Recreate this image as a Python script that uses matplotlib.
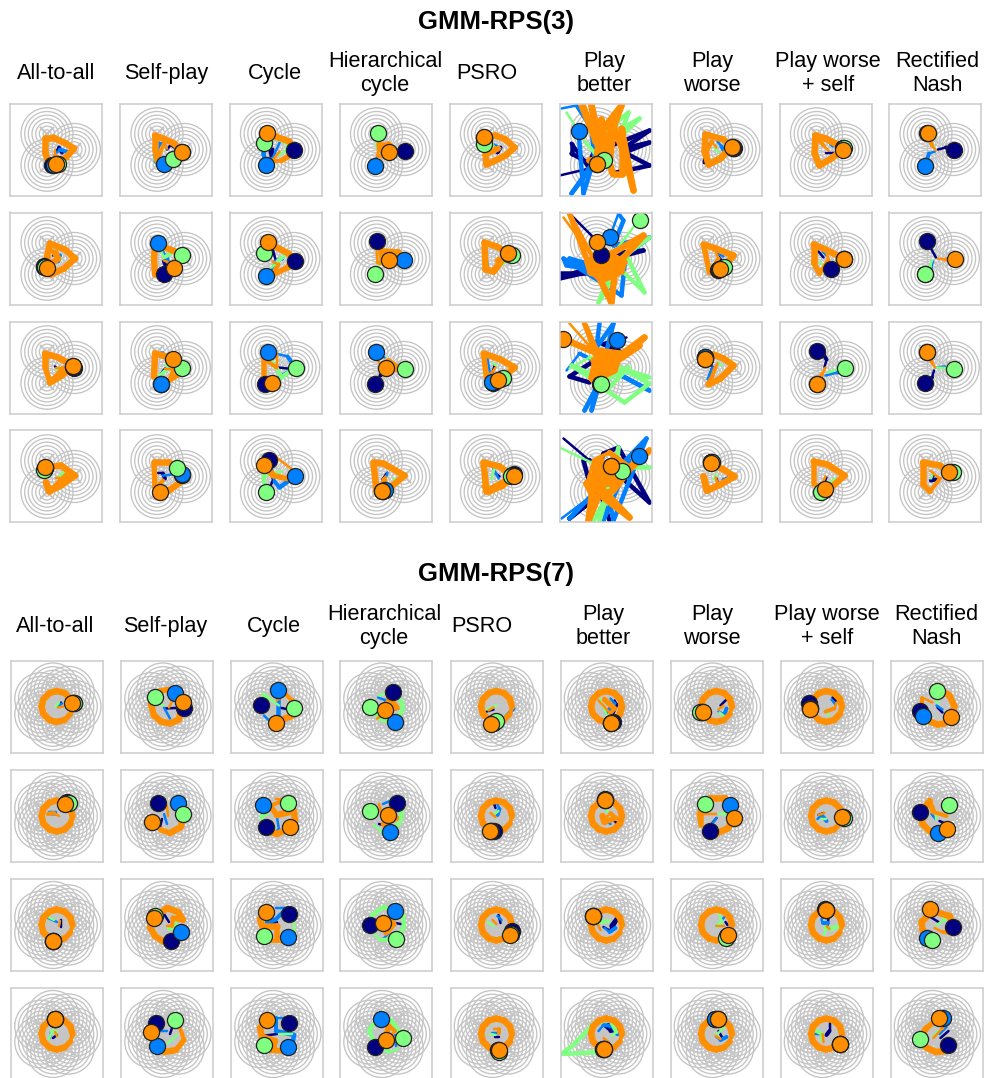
"""
plot.py
Two 4x9 grids of small panels: agent trajectories on GMM-RPS(3) and GMM-RPS(7).
Coordinates are in panel units, x to the right and y downwards from panel centre.
"""

import matplotlib.pyplot as plt
from matplotlib.collections import LineCollection
from matplotlib.patches import Circle

plt.rcParams["font.family"] = ["Liberation Sans", "DejaVu Sans"]

TITLES = ["GMM-RPS(3)", "GMM-RPS(7)"]
METHODS = ["All-to-all", "Self-play", "Cycle", "Hierarchical\ncycle", "PSRO",
           "Play\nbetter", "Play\nworse", "Play worse\n+ self", "Rectified\nNash"]

CENTRES_3 = [(-9, -15.7), (18.3, 0), (-9, 15.7)]
CENTRES_7 = [(18, 0), (11.2, 14.1), (-4, 17.5), (-16.2, 7.8), (-16.2, -7.8), (-4, -17.5), (11.2, -14.1)]
RADII = [26, 22.3, 18.7, 15, 11.3, 7.7, 4]

# final agent positions, rows x methods
NAVY_3 = [
    [(-4, 15), (16, 2), (18, 0), (19, 1), (-12, -12), (-9, 14), (18, -2), (17, -2), (19, 0)],
    [(-12, 7), (-2, 15), (19, 2), (-9, -17), (13, -5), (-5, -4), (2, 11), (5, 10), (-8, -17)],
    [(18, 0), (-5, 16), (-11, 16), (-11, 16), (-3, 15), (-6, 16), (-11, -11), (-9, -17), (-10, 15)],
    [(-11, -8), (16, -1), (-7, -16), (-3, 15), (18, -2), (5, -10), (-5, -14), (-2, 14), (15, -4)],
]
BLUE_3 = [
    [(-2, 15), (-2, 14), (-10, 15), (-11, 16), (-12, -12), (-27, -19), (17, -2), (17, -2), (-10, 16)],
    [(-12, 8), (-8, -15), (-10, 17), (18, 1), (13, -5), (4, -21), (3, 10), (18, 0), (-10, 15)],
    [(17, -1), (-5, 16), (-8, -16), (-10, -16), (-4, 14), (11, -28), (-11, -11), (-9, 16), (-8, -16)],
    [(-11, -8), (16, -2), (19, 0), (-1, 14), (16, -1), (33, -20), (-5, -14), (-2, 14), (15, -4)],
]
GREEN_3 = [
    [(2, 14), (7, 9), (-12, -7), (-8, -17), (-12, -6), (-2, 10), (17, -3), (18, -2), (-8, -17)],
    [(-11, 8), (16, -4), (-12, -6), (-11, 15), (16, -4), (34, -38), (8, 8), (18, 0), (-10, 15)],
    [(17, -2), (16, 0), (20, 0), (19, 1), (7, 10), (-5, 16), (-11, -9), (19, 0), (19, 1)],
    [(-12, -6), (11, -8), (-10, 16), (-4, 15), (15, 0), (16, -5), (-4, -14), (-5, 16), (18, -4)],
]
ORANGE_3 = [
    [(0, 14), (16, 2), (-9, -17), (3, 2), (-12, -13), (-9, 14), (16, -3), (17, 0), (-7, -17)],
    [(-9, 9), (8, 9), (-8, -16), (3, 1), (12, -6), (-9, -16), (4, 10), (18, 0), (20, 0)],
    [(17, -2), (7, -9), (-4, 15), (0, 0), (2, 12), (-43, -29), (-11, -9), (-9, 16), (-8, -16)],
    [(-11, -9), (-6, 16), (-12, -11), (-4, 15), (18, 0), (5, -10), (-5, -13), (-1, 13), (14, -4)],
]
NAVY_7 = [
    [(17, -4), (17, 1), (-16, -2), (7, -15), (-4, 16), (6, 15), (-16, 5), (-18, -4), (-17, 4)],
    [(10, -14), (-9, -13), (-11, 11), (11, -13), (-3, 15), (-2, -17), (-7, 15), (16, 1), (-17, -4)],
    [(-4, 16), (4, 16), (12, -11), (-16, 0), (15, 6), (-14, -9), (10, 11), (-2, -16), (16, 2)],
    [(-2, -15), (-11, -11), (12, -11), (-11, 13), (1, 16), (-4, 15), (-2, -15), (13, 10), (11, 11)],
]
BLUE_7 = [
    [(16, -4), (8, -14), (1, -17), (9, 15), (-4, 16), (4, 16), (-15, 5), (-17, 1), (-14, 9)],
    [(9, -13), (11, -13), (-14, -11), (4, 16), (-6, 15), (-2, -16), (13, -11), (16, 1), (1, 17)],
    [(-4, 16), (14, 7), (11, 12), (9, -14), (14, 9), (-14, -9), (10, 11), (-1, -15), (-10, 13)],
    [(-2, -15), (-10, 12), (11, 13), (-5, -15), (1, 16), (-4, 15), (-2, -15), (13, 10), (6, -16)],
]
GREEN_7 = [
    [(17, -4), (-12, -10), (17, 1), (-16, 0), (-1, 14), (4, 16), (-17, 5), (-17, 1), (0, -16)],
    [(12, -13), (16, -2), (11, -13), (-16, -5), (-6, 15), (-2, -16), (-12, -12), (17, 2), (12, -11)],
    [(-4, 16), (-12, -9), (-13, 11), (10, 14), (14, 9), (-14, -9), (9, 13), (-1, -15), (-5, 15)],
    [(-2, -15), (8, -14), (-13, 11), (17, 4), (2, 18), (-3, 15), (1, -15), (13, 10), (-17, 5)],
]
ORANGE_7 = [
    [(15, -4), (16, -5), (-1, 16), (-1, 3), (-6, 17), (4, 16), (-14, 5), (-17, 2), (14, 10)],
    [(8, -12), (-15, 6), (13, 11), (2, -1), (-7, 15), (-2, -16), (17, 2), (15, 1), (10, 13)],
    [(-4, 16), (-13, -7), (-11, -13), (-3, -2), (13, 10), (-14, -9), (11, 10), (-1, -15), (-7, -16)],
    [(-2, -15), (-16, -2), (-10, -14), (0, 6), (2, 16), (-3, 15), (1, -15), (13, 10), (2, -16)],
]

# the orbit most agents settle on in the seven-gaussian game
RING = [(15.5, 0), (13.5, 7.5), (7.5, 13.5), (0, 15.5), (-7.5, 13.5), (-13.5, 7.5), (-15.5, 0),
        (-13.5, -7.5), (-7.5, -13.5), (0, -15.5), (7.5, -13.5), (13.5, -7.5), (15.5, 0)]

# trails, rows x methods; None breaks a line where the path is hidden
NAVY_TRAIL_3 = [
    [[(0, 2), (3, -2), (6, 3)], [(1, 0), (5, -5), (16, 2)], [(-7, -3), (-4, 9), (-3, 0)], [(3, 0), (19, 1)],
     [(2, -2), (5, -2), (2, 3)],
     [(-46, 26), (-16, 19), (-34, -6), (-34, 4), (-16, 14), (-12, 3), (44, -19), (18, -1), (44, -7), (19, 3), (44, 16), (11, 23)],
     [(-3, -7), (-8, -4), (-11, 13)], [(0, 3), (15, 3)], [(3, 0), (11, -2), (19, 0)]],
    [[(-3, -3), (-1, -7)], [(0, -2), (-2, 3), (0, 8)], [(-4, -14), (0, 1)], [(-5, -5), (-3, -3)], [(3, 1), (5, 3), (7, 0)],
     [(-36, -45), (-12, -21), (-5, -4), (38, -8), (8, 0), (-46, 20), (-19, 14), (-46, 14)],
     [(3, -2), (7, 3), (2, 4)], [(-7, -7), (-2, -1)], [(1, -1), (-8, -17)]],
    [[(-1, -1), (1, 1)], [(-5, 6), (-1, 1)], [(3, 0), (12, 1)], [(-11, 16), (-5, 8), (0, 0)], [(-1, -2), (-3, 5)],
     [(21, -30), (-4, -24), (16, -14), (10, -20), (-36, 9), (-16, 15)],
     [(-6, 8), (-3, -1)], [(-1, 0), (1, -8), (-2, -13), (-9, -17)], [(-1, 3), (-3, 10), (-10, 15)]],
    [[(6, 1), (10, -1)], [(-8, -3), (-3, -3), (-1, 2)], [(-6, 12), (-2, 2), (-7, -16)], [(1, -3), (-3, 3)], [(0, -3), (4, 0)],
     [(-42, -38), (-16, -16), (-22, -16), (-14, 14), (-2, -23), (13, -29), (44, 26), (16, 1), (-36, 42), (-5, 17), (4, 44)],
     [(1, 2), (3, 9)], [(-3, 10), (1, 1)], [(-1, -2), (-4, 4), (1, 3)]],
]
BLUE_TRAIL_3 = [
    [[(1, 3), (4, 0), (13, 3)], [(1, -1), (-2, -6), (-7, -6), (-11, 5), (-10, 12)],
     [(5, -9), (-3, 9), (-10, 15), (-12, 4), (-11, -7)], [(-8, 6), (-11, 16)], [(-1, -5), (5, -1)],
     [(-44, -41), (-29, -44), (-14, -21), (-11, 11), (-34, 44), (-14, 18), (-22, 44), (-27, -19)],
     [(2, -8), (6, -3), (8, 1)], [(3, -8), (7, -3)], [(0, 2), (-6, 4), (-10, 16)]],
    [[(-1, -6), (4, -3), (2, 3)], [(-5, -10), (1, -1), (2, 4)], [(-6, 16), (0, 3), (7, 0)], [(1, 2), (18, 1)],
     [(-10, -12), (-8, 8)],
     [(4, -21), (13, -45), (18, -38), (8, -13), (44, -21), (20, -3), (16, 37), (1, 27), (-42, 0), (-39, 7), (-19, 10), (-36, 0), (-12, 7)],
     [(2, -5), (8, -2)], [(-3, -7), (1, -3)], [(-2, 3), (-4, 9), (-10, 15)]],
    [[(-3, -11), (-10, -10)], [(-9, -14), (-3, -15)], [(-8, -16), (12, -11), (20, 0), (8, 8), (-4, 15)],
     [(-10, -16), (-1, -10)], [(-4, 14), (-9, -14)],
     [(-39, 3), (-26, -14), (-12, -7), (44, 23), (1, 0), (-21, 43), (-6, 16), (-14, 43), (8, -44), (-9, -20), (-6, -44)],
     [(-8, 12), (-3, 0)], [(0, 8), (12, 5), (19, 0)], [(1, 0), (10, -1)]],
    [[(4, 6), (12, 0)], [(-3, -1), (6, -2)], [(-4, -7), (-1, 5), (4, 11), (19, 0)], [(2, -4), (-1, 5)], [(-2, -8), (3, 2)],
     [(-44, 42), (-16, 21), (-36, 42), (41, -38), (33, -19), (8, 44), (1, 11), (-2, 44), (24, -16)],
     [(7, 3), (12, 1)], [(-8, -13), (1, -11)], [(-10, -15), (-3, -12)]],
]
GREEN_TRAIL_3 = [
    [[(-11, -12), (-3, -10), (15, -5)], [(-11, -13), (-11, 10), (7, 9)], [(2, 6), (11, 1), (13, -6), (0, -12), (-12, -7)],
     [(-9, -2), (-8, -17)], [(-2, -4), (-10, -12)],
     [(-39, -37), (-19, -6), (-6, 9), (3, -21), (23, -37), (14, -12), (34, -31), (-1, -11), (-4, 3), (10, -30), (13, -10)],
     [(-1, -2), (3, 3)], [(-9, 15), (-11, 4)], [(0, 0), (-7, -17)]],
    [[(2, -1), (5, -1)], [(-5, -8), (-2, -1), (5, -5)], [(-4, 9), (2, 3), (9, -3)], [(-5, 5), (-11, 15)], [(6, 7), (14, -1)],
     [(33, -38), (4, 0), (39, 34), (21, -3), (-7, 44), (8, 5), (44, -21)],
     [(-9, 12), (-4, 8)], [(-6, 4), (0, 8)], [(-3, 2), (-5, 8), (-10, 15)]],
    [[(0, 1), (4, 4), (6, 1)], [(-1, -3), (4, -1), (-8, 10)], [(-5, -9), (0, -2), (6, 10), (20, 0)], [(1, 1), (19, 1)],
     [(-3, -4), (1, -2)],
     [(-36, 1), (-16, -10), (44, 10), (16, 1), (44, 16), (19, 35), (1, 23), (23, 0), (-6, 16), (-34, -2), (-10, 8)],
     [(2, -5), (6, -2)], [(2, 5), (19, 0)], [(1, 0), (19, 1)]],
    [[(3, 0), (8, -5), (9, 3)], [(-7, 8), (-3, 6)], [(7, -5), (-3, -4), (-12, -1), (-10, 16)], [(8, 2), (14, 3)],
     [(0, -12), (-4, 3)],
     [(-46, -29), (-12, -13), (44, -9), (24, -9), (-12, 44), (1, 21), (-6, 44), (13, -29), (11, -6)],
     [(-2, 3), (1, -2)], [(4, 6), (10, 2)], [(-4, 2), (-2, -3)]],
]
ORANGE_TRAIL_3 = [
    [[(-1, 0), (-1, 6), (3, 9), (-7, 15), (-11, 2), (-11, -12), (-3, -12), (10, -6), (18, -1), (10, 8), (0, 14)],
     [(1, -1), (-2, -6), (-9, 11), (-11, 0), (-11, -14), (-3, -11), (8, -6), (16, 2)],
     [(4, 2), (-4, 12), (6, 11), (16, 5), (18, 0), (14, -8), (0, -13), (-9, -17)],
     [(-8, -6), (-8, 6), (3, 8), (9, 3), (3, -5), (-6, -5), (-3, 2), (3, 2)],
     [(-1, -3), (-1, 2), (3, -1), (-10, 5), (-9, 15), (-2, 12), (10, 6), (19, -2), (10, -10), (0, -14), (-12, -13)],
     [(-26, -44), (-11, -7), (-22, -44), (-7, -1), (-14, -44), (-2, 5), (16, -44), (-2, -21), (9, -27), (4, 13), (7, 24), (16, 24), (16, -21), (28, 41), (19, 6), (6, -29), (2, 10), (-4, -30), (-9, 10), (-16, 11), (-9, 14)],
     [(1, -2), (-4, -8), (-9, 3), (-7, 15), (5, 9), (16, -3), (8, -10), (-10, -15), (-11, 2), (-7, 15), (5, 9), (16, -3)],
     [(3, 1), (-2, -4), (-10, -14), (0, -11), (10, -6), (17, 0), (6, 9), (-6, 16), (-11, 4), (-10, -14), (0, -11), (10, -6), (17, 0)],
     [(1, 1), (-3, -4), (-7, -17)]],
    [[(-1, -2), (-5, -8), (0, -6), (2, 0), (-9, 9), (-5, 16), (8, 10), (19, 0), (9, -9), (-6, -15), (-9, -2), (-9, 9)],
     [(-2, 2), (5, 5), (-2, 13), (-11, 16), (-12, 0), (-11, -14), (-1, -11), (14, -5), (8, 9)],
     [(-3, 3), (3, 6), (-4, 17), (12, 9), (19, 2), (13, -5), (-8, -16)],
     [(-9, -7), (-8, 4), (1, 6), (12, -2), (13, -6), (-4, -7), (-3, 1), (3, 1)],
     [(3, -1), (1, 2), (6, 3), (-2, 13), (-10, 11), (-11, -16), (1, -12), (12, -6), (-2, 13), (12, -6)],
     [(-42, -41), (-12, 0), (-36, -45), (-18, 3), (0, -6), (18, 3), (16, 13), (0, 20), (-15, 14), (-18, 3), (18, 3), (-15, 14), (16, 13), (0, -4), (-8, 18), (10, 2), (-12, 8), (14, 8), (-6, 2), (38, -23), (10, 8), (6, 44), (-9, 14), (16, 10), (-9, -16)],
     [(0, -7), (3, 0), (-6, 14), (-12, -14), (0, -10), (18, -3), (12, 4), (4, 10)],
     [(1, -5), (3, 1), (-6, 15), (-12, 4), (-12, -14), (0, -9), (18, 0)],
     [(3, 0), (10, 1), (20, 0)]],
    [[(0, 0), (7, 0), (-6, 15), (-11, -1), (-11, -14), (2, -10), (17, -2), (6, 8), (-6, 15), (8, 5), (17, -2)],
     [(-1, 1), (8, 1), (3, 13), (14, 6), (7, -9), (-11, -14), (-12, 9)],
     [(1, -14), (1, 0), (-12, -9), (-12, 12), (-4, 15)],
     [(-8, -7), (-2, 0), (6, 3), (13, 1), (3, -6), (0, 0)],
     [(0, 0), (-4, 6), (-9, 10), (-12, -14), (5, -8), (19, 0), (10, 8), (2, 12)],
     [(-36, -44), (-12, -17), (-21, -44), (-9, -17), (14, -14), (9, 3), (-12, 13), (-12, -7), (10, -8), (-7, 8), (5, 0), (-8, -12), (12, -10), (-10, -2), (8, -3), (-10, 6), (39, -30), (16, -10), (34, -22), (-14, 11), (-8, -14), (-43, -29)],
     [(2, -4), (0, 0), (-5, 13), (-7, 17), (5, 11), (18, -2), (8, -9), (-2, -13), (-11, -9)],
     [(0, 0), (-3, 6), (-9, 16)],
     [(0, 0), (-3, -5), (-8, -16)]],
    [[(0, 2), (8, 2), (12, -3), (-6, 15), (-10, 6), (-7, 15), (5, 9), (19, -1), (5, -11), (-11, -9)],
     [(-5, 7), (-3, 4), (-11, 12), (-12, -14), (3, -14), (11, -8), (14, 6), (3, 14), (-6, 16)],
     [(1, -19), (18, -6), (11, 2), (-2, -1), (-12, -11)],
     [(0, 0), (-5, 10), (-1, 3), (-4, 15), (-9, 15), (-12, -14), (-2, -13), (19, -1), (6, 10), (-4, 15)],
     [(-12, -14), (-12, 10), (-7, 16), (6, 10), (18, 0), (4, -10), (-12, -14), (-9, 15), (18, 0)],
     [(-19, 7), (-12, -16), (4, -24), (24, -9), (44, -26), (24, -7), (8, 14), (-12, 21), (-19, 7), (8, -16), (8, 10), (-10, -12), (-12, 14), (6, 0), (-15, 0), (12, -12), (-16, 10), (10, 6), (-6, -18), (-6, 18), (24, 41), (1, 17), (-12, 5), (-17, 44), (5, -10)],
     [(0, 1), (3, 9), (8, 6), (-9, 14), (-12, 0), (-8, 14), (5, 8), (19, 0), (8, -7), (-5, -13)],
     [(0, 0), (-4, 9), (-12, 8), (-12, -15), (2, -12), (19, -1), (8, 9), (-1, 13)],
     [(-5, -6), (5, 2), (-5, 15), (-12, 8), (-12, -14), (5, -11), (14, -4)]],
]
NAVY_TRAIL_7 = [
    [[(1, 0), (4, -4)], [(-2, 2), (17, 1)], [(2, 1), (12, 3)], [(4, 4), (12, 2)], [(-10, 5), (-3, 3)], [(8, -6), (10, -2), (6, 7)],
     [(4, -1), (10, -7)], [(6, -9), (10, -5)], [(1, 1), (6, 6)]],
    [[(-6, -2), (-1, -2)], [(-5, 3), (-7, 11)], [(2, -2), (15, -4)], [(-7, 8), (-2, 9)], [(-3, -14), (-1, -8)], [(5, 2), (10, 7)],
     [(-5, 8), (0, 2)], [(-8, -1), (-3, -3)], [(3, 5), (10, 8)]],
    [[(4, -5), (4, 2)], [(-3, -11), (2, -3)], [(-11, 1), (0, -3)], [(9, -2), (15, -1)], [(2, -10), (4, -2)], [(-3, 2), (4, 6), (11, -7), (5, 1)],
     [(9, -3), (11, 0)], [(2, -7), (1, 0)], [(-6, -8), (2, -3)]],
    [[(-4, 4), (0, 1)], [(3, 0), (5, -6)], [(-15, 2), (0, 0)], [(1, 5), (8, 4)], [(-2, 3), (2, 3)], [(-2, -8), (4, -3), (9, -4), (2, -9)],
     [(2, -3), (6, 4)], [(3, -11), (3, -3), (0, 1)], [(4, 4), (12, -3)]],
]
BLUE_TRAIL_7 = [
    [[(1, 0), (5, -3)], [(-3, 1), (3, 12)], [(-13, 9), (-7, 15), (1, 17), (1, -17)], [(-8, -9), (0, -6), (5, 10)], [(11, -12), (17, 2), (8, 12)],
     [(4, -8), (8, -3), (0, 6)], [(2, 5), (8, 8), (10, 2)], [(5, -7), (9, -2)], [(0, -1), (6, 3)]],
    [[(-8, -4), (-1, -4)], [(-3, -2), (0, 8)], [(0, 1), (2, 14), (-3, 18)], [(-3, -12), (4, -15)], [(0, -14), (3, -7), (1, -1)], [(-2, 4), (4, 8)],
     [(-9, 14), (0, 2)], [(-9, 3), (-5, -1), (0, 5)], [(-5, -2), (-1, 3)]],
    [[(-9, -7), (0, -3)], [(-3, -17), (4, -15)], [(-1, -17), (10, -17), (-2, -5), (-10, -3)], [(-3, 14), (2, 9)], [(1, -9), (5, -5)], [(-2, 3), (3, 7), (9, 3)],
     [(8, -8), (0, 1)], [(-5, -6), (-4, -2), (1, -2)], [(-15, 1), (-13, 6)]],
    [[(-7, 4), (-6, -2)], [(-7, -3), (0, -3)], [(10, -16), (-1, -16), (-1, -3), (17, 1), (16, 7)], [(9, 1), (10, 12)], [(-5, -1), (1, -1)], [(-8, -3), (-3, -9), (6, -8), (11, 0)],
     [(0, 3), (4, 6), (10, 3)], [(-12, 0), (-4, 0)], [(3, 0), (10, -7)]],
]
GREEN_TRAIL_7 = [
    [[(-1, 0), (2, -4)], [(-10, -3), (-3, -1)], [(2, -1), (-9, -9), (-14, -12)],
     [(-7, -11), (6, -15), (15, -6), (17, 2), (13, 10), (4, 16), (-6, 12), (-12, 6)],
     [(-10, 3), (0, -1)], [(-6, -7), (0, 8)], [(3, 6), (8, 10)], [(-1, 4), (2, 9)], [(-2, -9), (2, -3)]],
    [[(-9, -3), (-2, -3)], [(-8, -12), (-4, -7)], [(-9, -2), (-16, 0), (-11, 10)],
     [(-12, 9), (-4, 16), (8, 14), (15, 4), (16, -8)],
     [(-2, -2), (2, -5)], [(-3, -8), (3, -3)], [(1, -2), (8, -2), (14, -9)], [(-6, 3), (-1, 3)], [(-1, -5), (-1, 3)]],
    [[(-9, -8), (-3, -5)], [(8, -9), (10, 1), (2, 4)], [(17, -4), (17, 6), (11, 12)],
     [(-14, 6), (-6, 15), (10, 14), (18, 2), (17, -10), (9, -14), (-2, -18), (-14, -10)],
     [(-9, -3), (-3, 1)], [(-9, 0), (-5, -3), (2, -4)], [(2, -13), (5, -4), (1, 1)], [(-2, 10), (-1, 2), (4, 4), (13, 1)], [(0, 0), (8, -5), (6, -11)]],
    [[(-8, 5), (-5, -3), (-1, -2)], [(0, 10), (10, 1)], [(2, 0), (15, 0)],
     [(12, 15), (3, 18), (-12, 8), (-17, -4), (-8, -15), (5, -14), (15, 0)],
     [(-6, 0), (-1, 1)], [(5, 2), (10, -2), (3, -15), (-13, -10), (-32, 10), (-45, 20), (-4, 18)], [(7, -6), (0, 1)], [(-6, 6), (-4, 0), (-10, -3)], [(-2, 1), (2, -3)]],
]
ORANGE_TRAIL_7 = [
    [[(1, 1), (6, 0), None, *RING],
     [(2, 1), (6, -7), (1, -17), (-8, -15), (-16, -2), (-13, 9), (-6, 15), (3, 17), (12, 13), (16, -5)],
     [(0, -6), (8, -13), (15, -6), (16, 9), (8, 12), (-1, 16)],
     [(-9, 12), (-3, 8), (11, 1), (4, -7), (-1, 3)],
     [(-8, 4), (-3, 1), None, *RING],
     [(-8, -6), (4, 7), (8, 2), (-2, -7), None, *RING],
     [(2, 3), (7, -1), None, *RING],
     [(10, -4), (8, 2), (-1, 5), None, *RING],
     [(-4, -4), (-15, -9), (-15, 3), (-9, 14), (1, 18), (8, 17), (14, 10), (18, 0), (13, -11), (4, -16)]],
    [[(2, 0), (-3, -3), (-9, -2), None, *RING],
     [(0, -10), (1, 0), None, (-15, 6), (-6, 14), (3, 17), (14, 11), (16, -2)],
     [(-1, -17), (10, -17), (-7, -10), (0, -1), (17, -5), (18, 5), (13, 12), (0, 18), (-11, 15)],
     [(-7, -12), (-5, -5), (2, -1), (10, 2), (-2, 8)],
     [(-6, -3), (-1, 1), None, *RING],
     [(-1, 2), (4, -3), (9, 2), (-2, 6), (-4, 0), None, *RING],
     [(-1, -2), (-18, -2), (-16, 9), (-16, -4), (-6, -18), (8, -18), (15, 2), (12, 12), (1, 17)],
     [(-8, -1), (-2, -3), None, *RING],
     [(4, -2), (10, 0), (-3, -4), (-7, -15), (-15, -4), (-14, 8), (-7, 15), (1, 17), (10, 13)]],
    [[(2, 1), (3, -4), None, *RING],
     [(0, 1), (5, 1), (6, -7), (16, -5), (11, -13), (0, -17), (-13, -7), (-17, 2), (-12, 11), (-3, 17)],
     [(5, 17), (-6, 16), (0, 15), (0, 1), (-15, 1), (-17, -6), (-11, -13)],
     [(-3, -2), (5, -6), (8, -1), (0, 8)],
     [(-4, -5), (0, -1), None, *RING],
     [(-6, 5), (-9, -1), None, *RING],
     [(0, 1), (7, 1), None, *RING],
     [(3, 4), (0, 1), None, *RING],
     [(-2, 3), (6, 7), (15, 8), (17, 2), (13, -9), (-4, -14), (-15, -3), (-14, 5), (-8, 10)]],
    [[(0, 2), (-2, -2), None, *RING],
     [(4, -14), (13, -6), (17, 6), (9, 16), (-3, 18)],
     [(-2, 7), (-1, 16), (5, 17), (-6, 16), (-2, 7), (-15, 3), (-17, -6), (-10, -14)],
     [(0, 6), (9, -3), (3, -8), (-1, 4), (8, 5)],
     [(-3, -5), (2, -5), (2, -1), None, *RING],
     [(2, 8), (-3, 4), None, *RING],
     [(-1, 2), (4, 5), None, *RING],
     [(-3, 8), (-4, 0), None, *RING],
     [(-3, 4), (6, -6), (2, -16), (-10, -6), (-16, 3), (-11, 13), (-1, 18), (9, 17), (11, 11)]],
]

FIG_W, FIG_H = 984, 1078
PANEL = 92
COL_X = [[10, 120, 229.5, 339.5, 449.5, 559.5, 669.5, 779.5, 889],
         [11, 121, 231, 340, 450.5, 560.5, 670.5, 780.5, 890.5]]
ROW_Y = [[103.5, 212.5, 321.5, 430.5], [660.5, 770, 879, 988]]
LABEL_X = [[56, 166, 275, 385, 487, 604, 712, 828, 937],
           [55, 165, 274, 384, 482, 603, 712, 827, 936]]
LABEL_Y = [73.5, 626.5]
TITLE_Y = [22, 574]

COLORS = ["#000080", "#0080ff", "#80ff80", "#ff8f00"]
PX = 0.72  # one pixel in points at dpi 100


def draw_trail(ax, points, color, max_px):
    # lines start thin and thicken over the first few steps
    segs = [(a, b) for a, b in zip(points, points[1:]) if a and b]
    widths = [min(max_px, 2.5 + 1.5 * i) * PX for i in range(len(segs))]
    ax.add_collection(LineCollection(segs, colors=color, linewidths=widths, capstyle="round", joinstyle="round"))


def draw_panel(ax, centres, trails, dots):
    for cx, cy in centres:
        for r in RADII:
            ax.add_patch(Circle((cx, cy), r, fill=False, ec="#c4c4c4", lw=0.95))
        ax.plot(cx, cy, "x", color="#c4c4c4", ms=10, mew=1.5)
    for trail, color, max_px in zip(trails, COLORS, [4.5, 4.5, 4.5, 6.5]):
        draw_trail(ax, trail, color, max_px)
    for (x, y), color in zip(dots, COLORS):
        ax.plot(x, y, "o", ms=11.6, mfc=color, mec="#222222", mew=0.9)


fig = plt.figure(figsize=(FIG_W / 100, FIG_H / 100), dpi=100)

blocks = [
    (CENTRES_3, [NAVY_3, BLUE_3, GREEN_3, ORANGE_3], [NAVY_TRAIL_3, BLUE_TRAIL_3, GREEN_TRAIL_3, ORANGE_TRAIL_3]),
    (CENTRES_7, [NAVY_7, BLUE_7, GREEN_7, ORANGE_7], [NAVY_TRAIL_7, BLUE_TRAIL_7, GREEN_TRAIL_7, ORANGE_TRAIL_7]),
]

for b, (centres, dots, trails) in enumerate(blocks):
    fig.text(496 / FIG_W, 1 - TITLE_Y[b] / FIG_H, TITLES[b], ha="center", va="center",
             fontsize=18.5, fontweight="bold")
    for name, x in zip(METHODS, LABEL_X[b]):
        fig.text(x / FIG_W, 1 - LABEL_Y[b] / FIG_H, name, ha="center", va="center",
                 fontsize=15.6, linespacing=1.14)
    for r, y in enumerate(ROW_Y[b]):
        for c, x in enumerate(COL_X[b]):
            ax = fig.add_axes([x / FIG_W, 1 - (y + PANEL) / FIG_H, PANEL / FIG_W, PANEL / FIG_H])
            ax.set_xlim(-46, 46)
            ax.set_ylim(46, -46)
            ax.set_xticks([])
            ax.set_yticks([])
            for spine in ax.spines.values():
                spine.set_color("#cccccc")
                spine.set_linewidth(1.1)
            draw_panel(ax, centres,
                       [t[r][c] for t in trails],
                       [d[r][c] for d in dots])

fig.savefig("out.png", dpi=100)
